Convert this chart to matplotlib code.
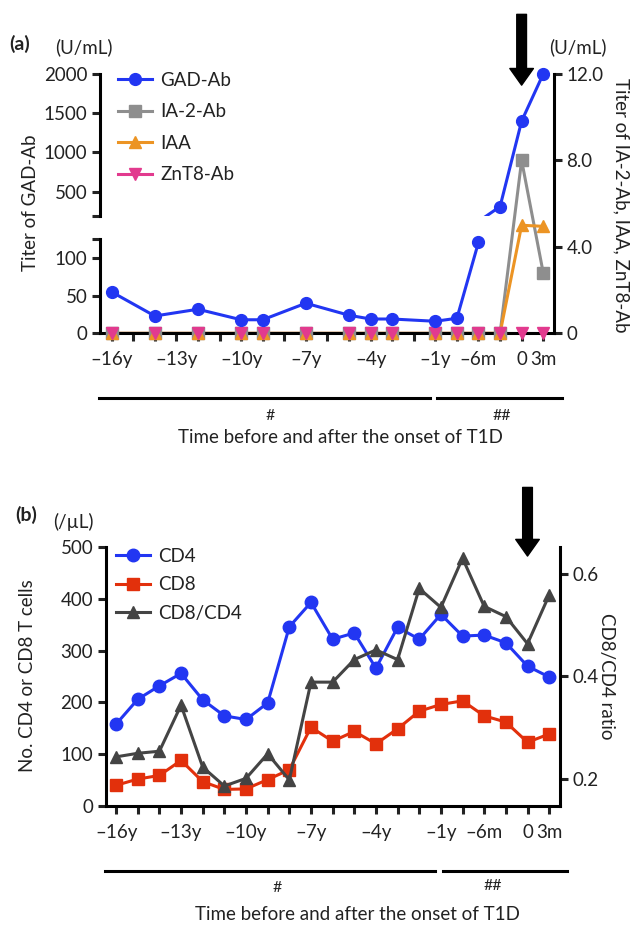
import numpy as np
import matplotlib
matplotlib.use("Agg")
import matplotlib.pyplot as plt
from matplotlib.lines import Line2D

plt.rcParams['font.family'] = ['Lato', 'DejaVu Sans']
plt.rcParams['font.size'] = 13.5
plt.rcParams['text.color'] = '#222222'
plt.rcParams['xtick.color'] = '#222222'
plt.rcParams['ytick.color'] = '#222222'

# time points (evenly spaced on the axis)
time_points = ['-16y', '-15y', '-14y', '-13y', '-12y', '-11y', '-10y', '-9y', '-8y',
               '-7y', '-6y', '-5y', '-4y', '-3y', '-2y', '-1y', '-9m', '-6m', '-3m', '0', '3m']
tick_labels = ['\u201316y', '', '', '\u201313y', '', '', '\u201310y', '', '', '\u20137y', '', '',
               '\u20134y', '', '', '\u20131y', '', '\u20136m', '', '0', '3m']

# panel (a): autoantibodies
time_a = ['-16y', '-14y', '-12y', '-10y', '-9y', '-7y', '-5y', '-4y', '-3y',
          '-1y', '-9m', '-6m', '-3m', '0', '3m']
gad_ab = [55, 23, 32, 18, 18, 40, 24, 19, 19, 16, 20, 121, 310, 1400, 2000]
ia2_ab = [0, 0, 0, 0, 0, 0, 0, 0, 0, 0, 0, 0, 0, 8.0, 2.8]
iaa = [0, 0, 0, 0, 0, 0, 0, 0, 0, 0, 0, 0, 0, 5.0, 4.95]
znt8_ab = [0, 0, 0, 0, 0, 0, 0, 0, 0, 0, 0, 0, 0, 0, 0]

# panel (b): T cells
cd4 = [158, 206, 232, 256, 205, 174, 167, 199, 346, 393, 322, 334, 266, 345,
       322, 370, 328, 330, 315, 270, 249]
cd8 = [40, 52, 59, 88, 47, 32, 33, 51, 70, 152, 125, 144, 120, 149,
       183, 196, 203, 174, 162, 123, 139]
ratio = [0.243, 0.250, 0.254, 0.344, 0.223, 0.186, 0.201, 0.249, 0.198, 0.389, 0.389,
         0.433, 0.452, 0.433, 0.572, 0.535, 0.631, 0.537, 0.517, 0.464, 0.559]

BLUE = '#2236f2'
GREY = '#8e8e8e'
ORANGE = '#ec9424'
PINK = '#e23a8e'
RED = '#e2300c'
DARK = '#444444'
LW = 2.2

xpos = {t: i for i, t in enumerate(time_points)}
xa = np.array([xpos[t] for t in time_a])
xb = np.arange(len(time_points))

fig = plt.figure(figsize=(6.38, 9.25), dpi=100)


def fx(px):
    return px / 638


def fy(py):
    return 1 - py / 925


def style_x(ax):
    ax.set_xticks(xb)
    ax.set_xticklabels(tick_labels)
    ax.tick_params(axis='x', length=6, width=LW, pad=7, direction='out')
    ax.tick_params(axis='y', length=6, width=LW, pad=3, direction='out')
    for s in ax.spines.values():
        s.set_linewidth(LW)


def series(ax, x, y, color, marker, ms):
    # line under the axis spine, markers on top of it
    ax.plot(x, y, color=color, lw=LW, zorder=1.5)
    ax.plot(x, y, ls='none', color=color, marker=marker, ms=ms, clip_on=False, zorder=3)


# ---------------- panel (a) ----------------
L, R = 100, 554
ax_r = fig.add_axes([fx(L), fy(333.3), (R - L) / 638, (333.3 - 74) / 925])
ax_lo = fig.add_axes([fx(L), fy(333.3), (R - L) / 638, (333.3 - 239.3) / 925], sharex=ax_r)
ax_hi = fig.add_axes([fx(L), fy(216), (R - L) / 638, (216 - 74) / 925], sharex=ax_r)

ax_r.set_xlim(-0.54, 20.5)
ax_r.set_ylim(0, 12)
ax_r.spines['top'].set_visible(False)
ax_r.spines['left'].set_visible(False)
ax_r.yaxis.tick_right()
ax_r.set_yticks([0, 4, 8, 12])
ax_r.set_yticklabels(['0', '4.0', '8.0', '12.0'])
style_x(ax_r)

series(ax_r, xa, ia2_ab, GREY, 's', 8.5)
series(ax_r, xa, iaa, ORANGE, '^', 9)
series(ax_r, xa, znt8_ab, PINK, 'v', 8.5)

gad = np.array(gad_ab, dtype=float)
for ax, lo, hi, ticks, labels in [
        (ax_lo, 0, 125, [0, 50, 100, 125], ['0', '50', '100', '']),
        (ax_hi, 190, 2000, [190, 500, 1000, 1500, 2000], ['', '500', '1000', '1500', '2000'])]:
    ax.patch.set_visible(False)
    ax.set_ylim(lo, hi)
    for side in ['top', 'right', 'bottom']:
        ax.spines[side].set_visible(False)
    ax.spines['left'].set_linewidth(LW)
    ax.tick_params(axis='x', bottom=False, labelbottom=False)
    ax.tick_params(axis='y', length=6, width=LW, pad=3)
    ax.set_yticks(ticks)
    ax.set_yticklabels(labels)
    ax.plot(xa, gad, color=BLUE, lw=LW, zorder=3)
    m = (gad >= lo) & (gad <= hi)
    ax.plot(xa[m], gad[m], ls='none', marker='o', ms=8.5, color=BLUE, clip_on=False, zorder=4)

fig.text(fx(30), fy(203), 'Titer of GAD-Ab', rotation=90, ha='center', va='center')
fig.text(fx(621), fy(205), 'Titer of IA-2-Ab, IAA, ZnT8-Ab', rotation=270, ha='center', va='center')
fig.text(fx(84), fy(47), '(U/mL)', ha='center', va='center')
fig.text(fx(578), fy(47), '(U/mL)', ha='center', va='center')
fig.text(fx(9), fy(44), '(a)', ha='left', va='center', fontweight='bold', fontsize=14)

handles_a = [Line2D([], [], color=BLUE, lw=LW, marker='o', ms=8.5),
             Line2D([], [], color=GREY, lw=LW, marker='s', ms=8.5),
             Line2D([], [], color=ORANGE, lw=LW, marker='^', ms=9),
             Line2D([], [], color=PINK, lw=LW, marker='v', ms=8.5)]
fig.legend(handles_a, ['GAD-Ab', 'IA-2-Ab', 'IAA', 'ZnT8-Ab'], loc='upper left',
           bbox_to_anchor=(fx(118), fy(72)), frameon=False, handlelength=1.8,
           handletextpad=0.45, labelspacing=0.77, borderpad=0, borderaxespad=0)

ax_r.annotate('', xy=(19, 0.957), xycoords=('data', 'axes fraction'),
              xytext=(19, 1.23), textcoords=('data', 'axes fraction'),
              arrowprops=dict(facecolor='black', edgecolor='black', width=7, headwidth=17,
                              headlength=12), annotation_clip=False)

for x0, x1, y in [(99, 430, 398), (437, 562, 398)]:
    fig.add_artist(Line2D([fx(x0), fx(x1)], [fy(y), fy(y)], color='black', lw=LW,
                          transform=fig.transFigure))
fig.text(fx(270), fy(416), '#', ha='center', va='center', fontsize=11.5)
fig.text(fx(502), fy(416), '##', ha='center', va='center', fontsize=11.5)
fig.text(fx(340), fy(437), 'Time before and after the onset of T1D', ha='center', va='center')

# ---------------- panel (b) ----------------
L2, R2 = 105.7, 560
ax_b = fig.add_axes([fx(L2), fy(806), (R2 - L2) / 638, (806 - 547) / 925])
ax_b2 = ax_b.twinx()
ax_b.set_xlim(-0.48, 20.5)
ax_b.set_ylim(0, 500)
ax_b2.set_ylim(0.147, 0.653)
ax_b.set_yticks([0, 100, 200, 300, 400, 500])
ax_b2.set_yticks([0.2, 0.4, 0.6])
ax_b2.set_yticklabels(['0.2', '0.4', '0.6'])
for ax in (ax_b, ax_b2):
    ax.spines['top'].set_visible(False)
    style_x(ax)
ax_b.spines['right'].set_visible(False)
ax_b2.spines['left'].set_visible(False)
ax_b2.spines['bottom'].set_visible(False)

ax_b.plot(xb, cd4, color=BLUE, lw=LW, marker='o', ms=9, zorder=3, clip_on=False)
ax_b.plot(xb, cd8, color=RED, lw=LW, marker='s', ms=9, zorder=3, clip_on=False)
ax_b2.plot(xb, ratio, color=DARK, lw=LW, marker='^', ms=9, zorder=3, clip_on=False)

handles_b = [Line2D([], [], color=BLUE, lw=LW, marker='o', ms=9),
             Line2D([], [], color=RED, lw=LW, marker='s', ms=9),
             Line2D([], [], color=DARK, lw=LW, marker='^', ms=9)]
fig.legend(handles_b, ['CD4', 'CD8', 'CD8/CD4'], loc='upper left',
           bbox_to_anchor=(fx(116), fy(548)), frameon=False, handlelength=1.8,
           handletextpad=0.45, labelspacing=0.6, borderpad=0, borderaxespad=0)

fig.text(fx(28), fy(676), 'No. CD4 or CD8 T cells', rotation=90, ha='center', va='center')
fig.text(fx(607), fy(676), 'CD8/CD4 ratio', rotation=270, ha='center', va='center')
fig.text(fx(73), fy(522), '(/\u00b5L)', ha='center', va='center')
fig.text(fx(15), fy(515), '(b)', ha='left', va='center', fontweight='bold', fontsize=14)

ax_b.annotate('', xy=(19, 0.965), xycoords=('data', 'axes fraction'),
              xytext=(19, 1.23), textcoords=('data', 'axes fraction'),
              arrowprops=dict(facecolor='black', edgecolor='black', width=7, headwidth=17,
                              headlength=12), annotation_clip=False)

for x0, x1, y in [(105, 435, 871), (443, 567, 871)]:
    fig.add_artist(Line2D([fx(x0), fx(x1)], [fy(y), fy(y)], color='black', lw=LW,
                          transform=fig.transFigure))
fig.text(fx(277), fy(888), '#', ha='center', va='center', fontsize=11.5)
fig.text(fx(493), fy(886), '##', ha='center', va='center', fontsize=11.5)
fig.text(fx(357), fy(915), 'Time before and after the onset of T1D', ha='center', va='center')

fig.savefig('out.png', dpi=100)
